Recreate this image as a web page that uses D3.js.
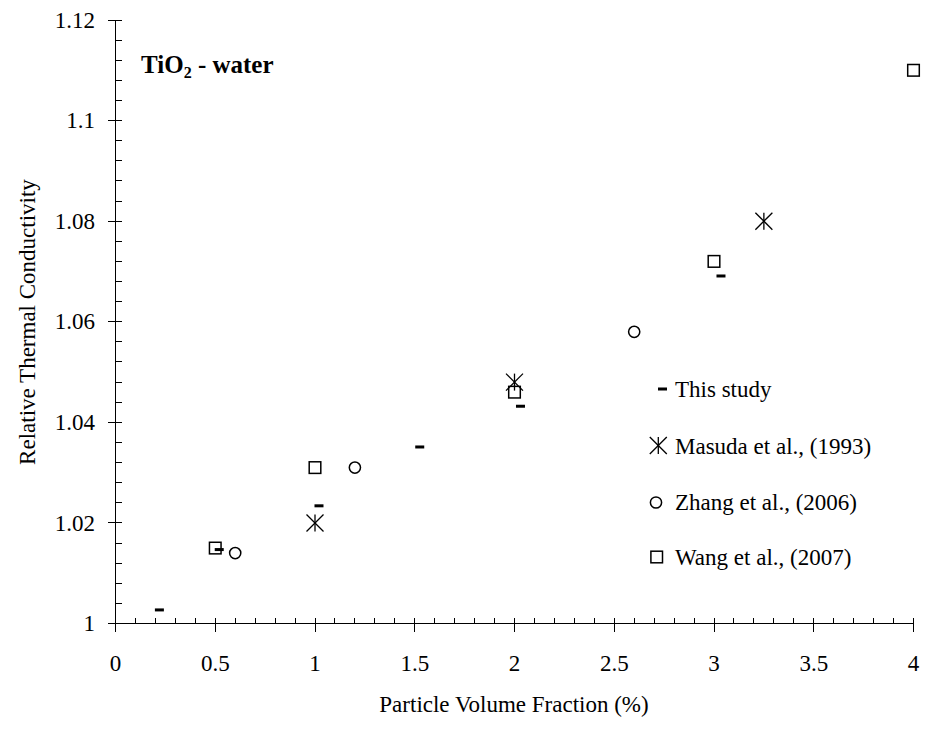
<!DOCTYPE html>
<html>
<head>
<meta charset="utf-8">
<script src="https://cdn.jsdelivr.net/npm/d3@7/dist/d3.min.js"></script>
<style>
  html, body { margin: 0; padding: 0; background: #fff; }
  svg { display: block; }
  text { font-family: "Liberation Serif", "Times New Roman", serif; fill: #000; }
</style>
</head>
<body>
<svg id="chart" width="926" height="744"></svg>
<script>
// Relative thermal conductivity of TiO2-water nanofluids vs. particle volume fraction
const thisStudyX = [0.22, 0.52, 1.02, 1.525, 2.03, 3.035];
const thisStudyY = [1.0027, 1.0147, 1.0234, 1.0351, 1.0432, 1.0691];
const masudaX = [1.0, 2.0, 3.25];
const masudaY = [1.020, 1.048, 1.080];
const zhangX = [0.6, 1.2, 2.6];
const zhangY = [1.014, 1.031, 1.058];
const wangX = [0.5, 1.0, 2.0, 3.0, 4.0];
const wangY = [1.015, 1.031, 1.046, 1.072, 1.110];

const xTicks = [0, 0.5, 1, 1.5, 2, 2.5, 3, 3.5, 4];
const xTickLabels = ["0", "0.5", "1", "1.5", "2", "2.5", "3", "3.5", "4"];
const yTicks = [1, 1.02, 1.04, 1.06, 1.08, 1.1, 1.12];
const yTickLabels = ["1", "1.02", "1.04", "1.06", "1.08", "1.1", "1.12"];

const legendNames = ["This study", "Masuda et al., (1993)", "Zhang et al., (2006)", "Wang et al., (2007)"];

const svg = d3.select("#chart");
const x = d3.scaleLinear().domain([0, 4]).range([115.5, 913.5]);
const y = d3.scaleLinear().domain([1, 1.12]).range([623.5, 20]);

const FS = 23;

// minor ticks (inside only)
const xMinor = d3.range(0, 4.0001, 0.1).map(v => +v.toFixed(2));
const yMinor = d3.range(1, 1.12001, 0.004).map(v => +v.toFixed(3));

const axes = svg.append("g").attr("stroke", "#000").attr("stroke-width", 1).attr("shape-rendering", "crispEdges");

axes.append("line").attr("x1", x(0)).attr("x2", x(4)).attr("y1", y(1)).attr("y2", y(1));
axes.append("line").attr("x1", x(0)).attr("x2", x(0)).attr("y1", y(1)).attr("y2", y(1.12));

axes.selectAll(".xminor").data(xMinor).join("line")
  .attr("x1", d => x(d)).attr("x2", d => x(d))
  .attr("y1", y(1)).attr("y2", y(1) - 6);
axes.selectAll(".xmajor").data(xTicks).join("line")
  .attr("x1", d => x(d)).attr("x2", d => x(d))
  .attr("y1", y(1) - 6).attr("y2", y(1) + 8);

axes.selectAll(".yminor").data(yMinor).join("line")
  .attr("x1", x(0)).attr("x2", x(0) + 6)
  .attr("y1", d => y(d)).attr("y2", d => y(d));
axes.selectAll(".ymajor").data(yTicks).join("line")
  .attr("x1", x(0) - 8).attr("x2", x(0) + 6)
  .attr("y1", d => y(d)).attr("y2", d => y(d));

// tick labels
svg.append("g").selectAll("text").data(xTicks).join("text")
  .attr("x", d => x(d)).attr("y", 671)
  .attr("text-anchor", "middle").attr("font-size", FS)
  .text((d, i) => xTickLabels[i]);

svg.append("g").selectAll("text").data(yTicks).join("text")
  .attr("x", 95).attr("y", d => y(d)).attr("dy", "0.33em")
  .attr("text-anchor", "end").attr("font-size", FS)
  .text((d, i) => yTickLabels[i]);

// axis titles
svg.append("text").attr("x", 514).attr("y", 712)
  .attr("text-anchor", "middle").attr("font-size", FS)
  .text("Particle Volume Fraction (%)");
svg.append("text")
  .attr("transform", "translate(35,322) rotate(-90)")
  .attr("text-anchor", "middle").attr("font-size", FS)
  .text("Relative Thermal Conductivity");

// inset label
const title = svg.append("text").attr("x", 141).attr("y", 73)
  .attr("font-size", 25).attr("font-weight", "bold");
title.append("tspan").text("TiO");
title.append("tspan").attr("font-size", 16).attr("dy", 5).text("2");
title.append("tspan").attr("dy", -5).text(" - water");

// marker drawers
function dash(g, cx, cy) {
  g.append("rect").attr("x", cx - 4.5).attr("y", cy - 1.5).attr("width", 9).attr("height", 3).attr("fill", "#000");
}
function star(g, cx, cy) {
  const r = 8.5;
  const p = g.append("g").attr("stroke", "#000").attr("stroke-width", 1.3);
  p.append("line").attr("x1", cx).attr("x2", cx).attr("y1", cy - r).attr("y2", cy + r);
  p.append("line").attr("x1", cx - r).attr("x2", cx + r).attr("y1", cy - r).attr("y2", cy + r);
  p.append("line").attr("x1", cx - r).attr("x2", cx + r).attr("y1", cy + r).attr("y2", cy - r);
}
function ring(g, cx, cy) {
  g.append("circle").attr("cx", cx).attr("cy", cy).attr("r", 5.6)
    .attr("fill", "none").attr("stroke", "#000").attr("stroke-width", 1.5);
}
function box(g, cx, cy) {
  g.append("rect").attr("x", cx - 5.8).attr("y", cy - 5.8).attr("width", 11.6).attr("height", 11.6)
    .attr("fill", "none").attr("stroke", "#000").attr("stroke-width", 1.5);
}

const marks = svg.append("g");
wangX.forEach((v, i) => box(marks, x(v), y(wangY[i])));
zhangX.forEach((v, i) => ring(marks, x(v), y(zhangY[i])));
masudaX.forEach((v, i) => star(marks, x(v), y(masudaY[i])));
thisStudyX.forEach((v, i) => dash(marks, x(v), y(thisStudyY[i])));

// legend
const legend = svg.append("g");
const legendBase = [397, 453.5, 509.5, 565];
const legendDraw = [
  (g, b) => dash(g, 662.5, b - 8),
  (g, b) => star(g, 658.3, b - 8),
  (g, b) => ring(g, 656, b - 7),
  (g, b) => box(g, 656.7, b - 8)
];
legendNames.forEach((name, i) => {
  legendDraw[i](legend, legendBase[i]);
  legend.append("text").attr("x", 675).attr("y", legendBase[i])
    .attr("font-size", FS).text(name);
});
</script>
</body>
</html>
